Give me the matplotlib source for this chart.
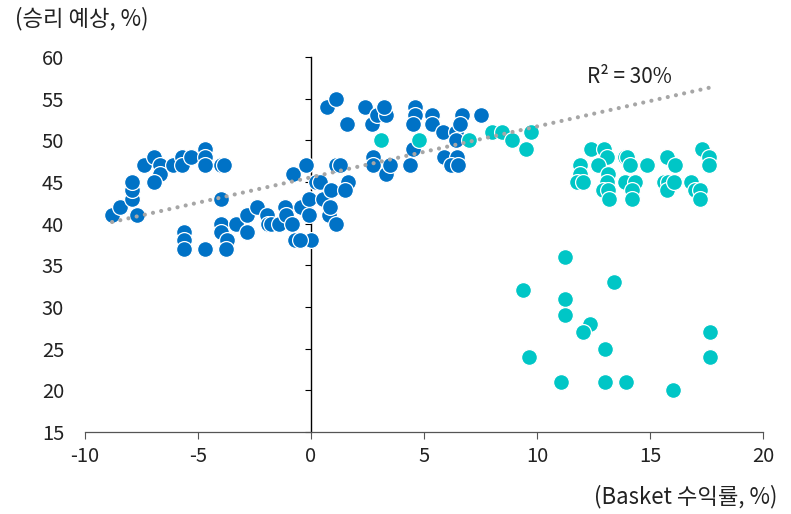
import numpy as np
import matplotlib
matplotlib.use("Agg")
import matplotlib.pyplot as plt

plt.rcParams['font.family'] = ['Noto Sans CJK KR', 'DejaVu Sans']

# Blue group (basket return %, win expectation %)
blue_x = [-8.8, -8.45, -7.9, -7.9, -7.9, -7.7, -7.4, -6.95, -6.7, -6.7, -6.95, -6.1,
          -5.7, -5.7, -5.3, -4.7, -4.7, -4.7, -4.0, -3.85, -4.0, -5.6, -5.6, -5.6,
          -4.7, -4.0, -4.0, -3.7, -3.75, -3.3, -2.85, -2.85, -2.4, -1.95, -1.9, -1.75,
          -1.4, -1.15, -1.1, -0.85, -0.7, -0.8, -0.2, 0.2, -0.45, -0.1, -0.1, 0.0,
          0.55, 0.8, 0.4, 0.9, 1.1, 1.3, 1.65, 1.5, 0.85, 1.1, -0.5,
          0.7, 1.1, 1.6, 2.4, 2.7, 2.9, 3.3, 3.25, 2.75, 2.75, 3.3, 3.5, 4.4,
          4.6, 4.6, 4.5, 4.5, 5.35, 5.35, 5.85, 5.9, 6.4, 6.4, 6.45, 6.2, 6.5,
          6.7, 6.6, 7.5]
blue_y = [41, 42, 43, 44, 45, 41, 47, 48, 47, 46, 45, 47,
          48, 47, 48, 49, 48, 47, 47, 47, 43, 39, 38, 37,
          37, 40, 39, 38, 37, 40, 41, 39, 42, 41, 40, 40,
          40, 42, 41, 40, 38, 46, 47, 45, 42, 43, 41, 38,
          43, 41, 45, 44, 47, 47, 45, 44, 42, 40, 38,
          54, 55, 52, 54, 52, 53, 53, 54, 48, 47, 46, 47, 47,
          54, 53, 52, 49, 53, 52, 51, 48, 51, 50, 48, 47, 47,
          53, 52, 53]

# Teal group
teal_x = [3.1, 4.8, 7.0, 8.0, 8.45, 8.9, 9.5, 9.75,
          12.4, 12.95, 13.1, 11.9, 11.9, 11.75, 12.05, 12.7, 13.15, 13.1, 12.9, 13.15,
          13.2, 13.9, 14.0, 14.1, 14.85, 13.9, 14.35, 14.2, 14.2, 15.75, 16.1, 15.6,
          15.8, 15.75, 16.05, 16.8, 17.0, 17.2, 17.2, 17.3, 17.6, 17.6,
          11.25, 9.4, 13.4, 11.25, 11.25, 12.35, 12.05, 13.0, 9.65, 17.65, 17.65,
          11.05, 13.0, 13.95, 16.0]
teal_y = [50, 50, 50, 51, 51, 50, 49, 51,
          49, 49, 48, 47, 46, 45, 45, 47, 46, 45, 44, 44,
          43, 48, 48, 47, 47, 45, 45, 44, 43, 48, 47, 45,
          45, 44, 45, 45, 44, 44, 43, 49, 48, 47,
          36, 32, 33, 31, 29, 28, 27, 25, 24, 27, 24,
          21, 21, 21, 20]

# trend line end points as shown in the chart (R² = 30%)
trend_x = [-8.8, 17.6]
trend_y = [40.2, 56.3]

x_ticks = [-10, -5, 0, 5, 10, 15, 20]
y_ticks = [15, 20, 25, 30, 35, 40, 45, 50, 55, 60]

BLUE = "#0072C6"
TEAL = "#00C6C6"
TXT = "#222222"

fig = plt.figure(figsize=(7.91, 5.14), dpi=100)
ax = fig.add_axes([85 / 791, 1 - 432 / 514, (763 - 85) / 791, (432 - 57) / 514])

ax.scatter(blue_x, blue_y, s=130, color=BLUE, edgecolor="white", linewidth=0.9, zorder=3)
ax.scatter(teal_x, teal_y, s=130, color=TEAL, edgecolor="white", linewidth=0.9, zorder=4)

ax.plot(trend_x, trend_y, color="#A6A6A6", lw=3,
        linestyle=(0, (0.01, 2.0)), dash_capstyle="round", zorder=5)
ax.text(12.2, 57.6, "R² = 30%", ha="left", va="center", fontsize=15, color=TXT)

ax.set_xlim(-10, 20)
ax.set_ylim(15, 60)
ax.set_xticks(x_ticks)
ax.set_yticks(y_ticks)
ax.set_xticklabels([str(t) for t in x_ticks])
ax.tick_params(axis="x", length=5, width=0.8, color="#555555", labelsize=14.5,
               labelcolor=TXT, pad=5)
ax.tick_params(axis="y", length=0, labelsize=14.5, labelcolor=TXT, pad=15)

for side in ["top", "right", "left"]:
    ax.spines[side].set_visible(False)
ax.spines["bottom"].set_color("#555555")
ax.spines["bottom"].set_linewidth(0.9)

# vertical axis line at x = 0 with its own tick marks
zero_pos = (0 - x_ticks[0]) / (x_ticks[-1] - x_ticks[0])
sec = ax.secondary_yaxis(zero_pos)
sec.set_yticks(y_ticks)
sec.set_yticklabels([])
sec.tick_params(length=4, width=0.8, color="black", direction="out")
sec.spines["left"].set_color("black")
sec.spines["left"].set_linewidth(1.0)

fig.text(15 / 791, 1 - 19 / 514, "(승리 예상, %)", ha="left", va="center",
         fontsize=16, color=TXT)
fig.text(777 / 791, 1 - 497 / 514, "(Basket 수익률, %)", ha="right", va="center",
         fontsize=16, color=TXT)

fig.savefig("out.png", dpi=100)
